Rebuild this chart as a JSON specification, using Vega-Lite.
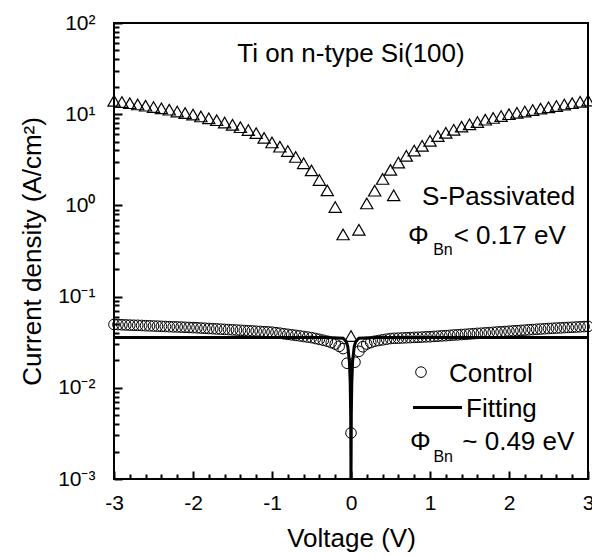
{
  "$schema": "https://vega.github.io/schema/vega-lite/v6.json",
  "width": 474,
  "height": 456,
  "autosize": "none",
  "padding": {"left": 114, "top": 23, "right": 4, "bottom": 77},
  "config": {
    "view": {"stroke": "black", "strokeWidth": 2},
    "font": "Liberation Sans",
    "text": {"font": "Liberation Sans"}
  },
  "datasets": {
    "control": [
      {"V": -3.00, "J": 0.0495}, {"V": -2.95, "J": 0.0493}, {"V": -2.90, "J": 0.0491}, {"V": -2.85, "J": 0.0489},
      {"V": -2.80, "J": 0.0487}, {"V": -2.75, "J": 0.0485}, {"V": -2.70, "J": 0.0484}, {"V": -2.65, "J": 0.0482},
      {"V": -2.60, "J": 0.0480}, {"V": -2.55, "J": 0.0478}, {"V": -2.50, "J": 0.0476}, {"V": -2.45, "J": 0.0474},
      {"V": -2.40, "J": 0.0472}, {"V": -2.35, "J": 0.0470}, {"V": -2.30, "J": 0.0468}, {"V": -2.25, "J": 0.0466},
      {"V": -2.20, "J": 0.0465}, {"V": -2.15, "J": 0.0463}, {"V": -2.10, "J": 0.0461}, {"V": -2.05, "J": 0.0459},
      {"V": -2.00, "J": 0.0457}, {"V": -1.95, "J": 0.0455}, {"V": -1.90, "J": 0.0452}, {"V": -1.85, "J": 0.0450},
      {"V": -1.80, "J": 0.0447}, {"V": -1.75, "J": 0.0445}, {"V": -1.70, "J": 0.0442}, {"V": -1.65, "J": 0.0440},
      {"V": -1.60, "J": 0.0437}, {"V": -1.55, "J": 0.0435}, {"V": -1.50, "J": 0.0432}, {"V": -1.45, "J": 0.0430},
      {"V": -1.40, "J": 0.0427}, {"V": -1.35, "J": 0.0425}, {"V": -1.30, "J": 0.0422}, {"V": -1.25, "J": 0.0420},
      {"V": -1.20, "J": 0.0417}, {"V": -1.15, "J": 0.0415}, {"V": -1.10, "J": 0.0412}, {"V": -1.05, "J": 0.0410},
      {"V": -1.00, "J": 0.0407}, {"V": -0.95, "J": 0.0402}, {"V": -0.90, "J": 0.0397}, {"V": -0.85, "J": 0.0391},
      {"V": -0.80, "J": 0.0386}, {"V": -0.75, "J": 0.0381}, {"V": -0.70, "J": 0.0376}, {"V": -0.65, "J": 0.0371},
      {"V": -0.60, "J": 0.0365}, {"V": -0.55, "J": 0.0360}, {"V": -0.50, "J": 0.0355}, {"V": -0.45, "J": 0.0347},
      {"V": -0.40, "J": 0.0340}, {"V": -0.35, "J": 0.0332}, {"V": -0.30, "J": 0.0324}, {"V": -0.25, "J": 0.0313},
      {"V": -0.20, "J": 0.0302}, {"V": -0.15, "J": 0.0285}, {"V": -0.10, "J": 0.0269}, {"V": -0.05, "J": 0.0186},
      {"V": 0.00, "J": 0.0032}, {"V": 0.05, "J": 0.0191}, {"V": 0.10, "J": 0.0251}, {"V": 0.15, "J": 0.0282},
      {"V": 0.20, "J": 0.0302}, {"V": 0.25, "J": 0.0313}, {"V": 0.30, "J": 0.0324}, {"V": 0.35, "J": 0.0330},
      {"V": 0.40, "J": 0.0336}, {"V": 0.45, "J": 0.0341}, {"V": 0.50, "J": 0.0347}, {"V": 0.55, "J": 0.0349},
      {"V": 0.60, "J": 0.0350}, {"V": 0.65, "J": 0.0352}, {"V": 0.70, "J": 0.0354}, {"V": 0.75, "J": 0.0355},
      {"V": 0.80, "J": 0.0357}, {"V": 0.85, "J": 0.0358}, {"V": 0.90, "J": 0.0360}, {"V": 0.95, "J": 0.0362},
      {"V": 1.00, "J": 0.0363}, {"V": 1.05, "J": 0.0366}, {"V": 1.10, "J": 0.0368}, {"V": 1.15, "J": 0.0371},
      {"V": 1.20, "J": 0.0373}, {"V": 1.25, "J": 0.0376}, {"V": 1.30, "J": 0.0379}, {"V": 1.35, "J": 0.0381},
      {"V": 1.40, "J": 0.0384}, {"V": 1.45, "J": 0.0386}, {"V": 1.50, "J": 0.0389}, {"V": 1.55, "J": 0.0392},
      {"V": 1.60, "J": 0.0395}, {"V": 1.65, "J": 0.0397}, {"V": 1.70, "J": 0.0400}, {"V": 1.75, "J": 0.0403},
      {"V": 1.80, "J": 0.0406}, {"V": 1.85, "J": 0.0409}, {"V": 1.90, "J": 0.0411}, {"V": 1.95, "J": 0.0414},
      {"V": 2.00, "J": 0.0417}, {"V": 2.05, "J": 0.0420}, {"V": 2.10, "J": 0.0423}, {"V": 2.15, "J": 0.0426},
      {"V": 2.20, "J": 0.0429}, {"V": 2.25, "J": 0.0432}, {"V": 2.30, "J": 0.0435}, {"V": 2.35, "J": 0.0438},
      {"V": 2.40, "J": 0.0441}, {"V": 2.45, "J": 0.0444}, {"V": 2.50, "J": 0.0447}, {"V": 2.55, "J": 0.0449},
      {"V": 2.60, "J": 0.0452}, {"V": 2.65, "J": 0.0454}, {"V": 2.70, "J": 0.0457}, {"V": 2.75, "J": 0.0459},
      {"V": 2.80, "J": 0.0461}, {"V": 2.85, "J": 0.0464}, {"V": 2.90, "J": 0.0466}, {"V": 2.95, "J": 0.0469},
      {"V": 3.00, "J": 0.0471}
    ],
    "fit": [
      {"V": -3.0, "J": 0.0357}, {"V": -0.3, "J": 0.0357}, {"V": -0.1, "J": 0.0350}, {"V": -0.06, "J": 0.0322},
      {"V": -0.04, "J": 0.0281}, {"V": -0.02, "J": 0.0192}, {"V": -0.01, "J": 0.0114}, {"V": -0.004, "J": 0.0051},
      {"V": -0.001, "J": 0.00135}, {"V": 0.0, "J": 0.00001}, {"V": 0.001, "J": 0.00135}, {"V": 0.004, "J": 0.0051},
      {"V": 0.01, "J": 0.0114}, {"V": 0.02, "J": 0.0192}, {"V": 0.04, "J": 0.0281}, {"V": 0.06, "J": 0.0322},
      {"V": 0.1, "J": 0.0350}, {"V": 0.3, "J": 0.0357}, {"V": 3.0, "J": 0.0357}
    ],
    "tri": [
      {"V": -3.0, "J": 14.0}, {"V": -2.9, "J": 13.6}, {"V": -2.8, "J": 13.2}, {"V": -2.7, "J": 12.8},
      {"V": -2.6, "J": 12.4}, {"V": -2.5, "J": 12.0}, {"V": -2.4, "J": 11.6}, {"V": -2.3, "J": 11.2},
      {"V": -2.2, "J": 10.7}, {"V": -2.1, "J": 10.3}, {"V": -2.0, "J": 9.9}, {"V": -1.9, "J": 9.45},
      {"V": -1.8, "J": 9.0}, {"V": -1.7, "J": 8.6}, {"V": -1.6, "J": 8.1}, {"V": -1.5, "J": 7.65},
      {"V": -1.4, "J": 7.2}, {"V": -1.3, "J": 6.7}, {"V": -1.2, "J": 6.2}, {"V": -1.1, "J": 5.5},
      {"V": -1.0, "J": 4.9}, {"V": -0.9, "J": 4.4}, {"V": -0.8, "J": 3.95}, {"V": -0.7, "J": 3.4},
      {"V": -0.6, "J": 2.9}, {"V": -0.5, "J": 2.42}, {"V": -0.4, "J": 1.9}, {"V": -0.3, "J": 1.46},
      {"V": -0.2, "J": 0.96}, {"V": -0.1, "J": 0.48}, {"V": 0.0, "J": 0.037}, {"V": 0.1, "J": 0.54},
      {"V": 0.2, "J": 1.05}, {"V": 0.3, "J": 1.45}, {"V": 0.4, "J": 1.95}, {"V": 0.5, "J": 2.45},
      {"V": 0.6, "J": 2.95}, {"V": 0.7, "J": 3.5}, {"V": 0.8, "J": 4.0}, {"V": 0.9, "J": 4.5},
      {"V": 1.0, "J": 5.1}, {"V": 1.1, "J": 5.75}, {"V": 1.2, "J": 6.25}, {"V": 1.3, "J": 6.75},
      {"V": 1.4, "J": 7.3}, {"V": 1.5, "J": 7.75}, {"V": 1.6, "J": 8.2}, {"V": 1.7, "J": 8.7},
      {"V": 1.8, "J": 9.1}, {"V": 1.9, "J": 9.55}, {"V": 2.0, "J": 10.0}, {"V": 2.1, "J": 10.35},
      {"V": 2.2, "J": 10.7}, {"V": 2.3, "J": 11.1}, {"V": 2.4, "J": 11.5}, {"V": 2.5, "J": 11.9},
      {"V": 2.6, "J": 12.3}, {"V": 2.7, "J": 12.75}, {"V": 2.8, "J": 13.2}, {"V": 2.9, "J": 13.65},
      {"V": 3.0, "J": 14.1}
    ],
    "legTri": [{"V": 0.54, "J": 1.29}],
    "legCircle": [{"V": 0.886, "J": 0.01486}],
    "legLine": [{"V": 0.785, "J": 0.0061}, {"V": 1.405, "J": 0.0061}],
    "labels": [
      {"V": 0.899, "J": 1.02, "label": "S-Passivated"},
      {"V": 0.72, "J": 0.375, "label": "Φ"},
      {"V": 1.30, "J": 0.378, "label": "< 0.17 eV"},
      {"V": 1.241, "J": 0.01155, "label": "Control"},
      {"V": 1.456, "J": 0.00477, "label": "Fitting"},
      {"V": 0.747, "J": 0.00209, "label": "Φ"},
      {"V": 1.409, "J": 0.00209, "label": "~ 0.49 eV"}
    ],
    "heading": [{"V": 0.0, "J": 37.0, "label": "Ti on n-type Si(100)"}],
    "subs": [
      {"V": 1.04, "J": 0.283, "label": "Bn"},
      {"V": 1.043, "J": 0.00153, "label": "Bn"}
    ]
  },
  "layer": [
    {
      "encoding": {
        "x": {
          "field": "V",
          "type": "quantitative",
          "scale": {"domain": [-3, 3], "nice": false, "zero": false},
          "axis": {
            "title": "Voltage (V)",
            "values": [-3, -2, -1, 0, 1, 2, 3],
            "labelExpr": "'' + round(datum.value)",
            "tickSize": 8,
            "offset": -8,
            "tickWidth": 2,
            "tickColor": "black",
            "domain": false,
            "grid": false,
            "labelFlush": false,
            "labelOverlap": false,
            "labelFontSize": 21,
            "labelColor": "black",
            "labelPadding": 13,
            "titleFontSize": 26,
            "titleFontWeight": "normal",
            "titleColor": "black",
            "titlePadding": 12
          }
        },
        "y": {
          "field": "J",
          "type": "quantitative",
          "scale": {"type": "log", "domain": [0.001, 100], "nice": false},
          "axis": {
            "title": "Current density (A/cm²)",
            "values": [0.001, 0.01, 0.1, 1, 10, 100],
            "labelExpr": "['10⁻³','10⁻²','10⁻¹','10⁰','10¹','10²'][round(log(datum.value)/LN10) + 3]",
            "tickSize": 8,
            "offset": -8,
            "tickWidth": 2,
            "tickColor": "black",
            "domain": false,
            "grid": false,
            "labelFlush": false,
            "labelOverlap": false,
            "labelFontSize": 21,
            "labelColor": "black",
            "labelPadding": 19,
            "titleFontSize": 26,
            "titleFontWeight": "normal",
            "titleColor": "black",
            "titlePadding": 12
          }
        }
      },
      "layer": [
        {
          "data": {"name": "control"},
          "mark": {"type": "point", "shape": "circle", "size": 113, "filled": false, "color": "black", "strokeWidth": 1, "opacity": 1}
        },
        {
          "data": {"name": "fit"},
          "mark": {"type": "line", "color": "black", "strokeWidth": 3, "clip": true}
        },
        {
          "data": {"name": "tri"},
          "mark": {"type": "point", "shape": "triangle-up", "size": 150, "filled": false, "color": "black", "strokeWidth": 1.2, "opacity": 1}
        },
        {
          "data": {"name": "legTri"},
          "mark": {"type": "point", "shape": "triangle-up", "size": 150, "filled": false, "color": "black", "strokeWidth": 1.2, "opacity": 1}
        },
        {
          "data": {"name": "legLine"},
          "mark": {"type": "line", "color": "black", "strokeWidth": 3}
        },
        {
          "data": {"name": "labels"},
          "mark": {"type": "text", "align": "left", "baseline": "alphabetic", "fontSize": 26, "color": "black"},
          "encoding": {"text": {"field": "label"}}
        },
        {
          "data": {"name": "heading"},
          "mark": {"type": "text", "align": "center", "baseline": "alphabetic", "fontSize": 26, "color": "black"},
          "encoding": {"text": {"field": "label"}}
        },
        {
          "data": {"name": "subs"},
          "mark": {"type": "text", "align": "left", "baseline": "alphabetic", "fontSize": 16, "color": "black"},
          "encoding": {"text": {"field": "label"}}
        }
      ]
    },
    {
      "data": {"name": "legCircle"},
      "mark": {"type": "point", "shape": "circle", "size": 113, "filled": false, "color": "black", "strokeWidth": 1, "opacity": 1},
      "encoding": {
        "x": {
          "field": "V",
          "type": "quantitative",
          "scale": {"domain": [-3, 3], "nice": false, "zero": false},
          "axis": {
            "orient": "bottom",
            "title": null,
            "labels": false,
            "domain": false,
            "grid": false,
            "values": [-2.8, -2.6, -2.4, -2.2, -1.8, -1.6, -1.4, -1.2, -0.8, -0.6, -0.4, -0.2, 0.2, 0.4, 0.6, 0.8, 1.2, 1.4, 1.6, 1.8, 2.2, 2.4, 2.6, 2.8],
            "tickSize": 5,
            "offset": -5,
            "tickWidth": 2,
            "tickColor": "black"
          }
        },
        "y": {
          "field": "J",
          "type": "quantitative",
          "scale": {"type": "log", "domain": [0.001, 100], "nice": false},
          "axis": {
            "orient": "left",
            "title": null,
            "labels": false,
            "domain": false,
            "grid": false,
            "values": [0.002, 0.003, 0.004, 0.005, 0.006, 0.007, 0.008, 0.009, 0.02, 0.03, 0.04, 0.05, 0.06, 0.07, 0.08, 0.09, 0.2, 0.3, 0.4, 0.5, 0.6, 0.7, 0.8, 0.9, 2, 3, 4, 5, 6, 7, 8, 9, 20, 30, 40, 50, 60, 70, 80, 90],
            "tickSize": 5,
            "offset": -5,
            "tickWidth": 2,
            "tickColor": "black"
          }
        }
      }
    }
  ],
  "resolve": {"axis": {"x": "independent", "y": "independent"}}
}
